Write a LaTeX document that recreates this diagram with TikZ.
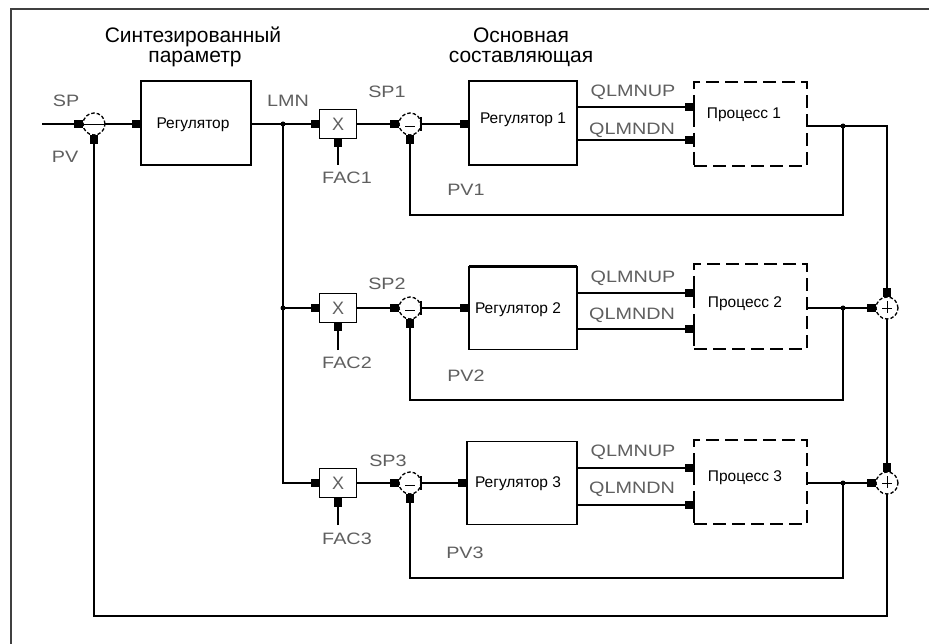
\documentclass[tikz,border=0pt]{standalone}
\usepackage{fontspec}
\usepackage{graphicx}
\setmainfont{Liberation Sans}
\usetikzlibrary{arrows.meta}
\definecolor{lblgray}{RGB}{95,95,95}
\definecolor{framegray}{RGB}{64,64,64}
\newcommand\stretchlbl[1]{\scalebox{1.2}[1]{#1}}
\begin{document}
\begin{tikzpicture}[x=1pt,y=-1pt,
 line width=1.5pt,
 every node/.style={inner sep=0pt,outer sep=0pt},
 blk/.style={draw,line width=1.6pt,rectangle},
 procbox/.style={draw,line width=1.6pt,dash pattern=on 13pt off 6pt,rectangle,minimum width=113pt},
 xbox/.style={draw,line width=1.6pt,rectangle,minimum width=37pt,minimum height=29pt,font=\fontsize{18}{18}\selectfont,text=lblgray},
 cmp/.style={circle,draw,line width=1.3pt,dash pattern=on 3.5pt off 2pt,minimum size=22pt},
 port/.style={-{Square[length=9pt,width=8pt]}},
 lbl/.style={text=lblgray,font=\fontsize{16.5}{16.5}\selectfont},
 btxt/.style={font=\fontsize{15.5}{15.5}\selectfont,anchor=base},
 hdr/.style={font=\fontsize{21}{21}\selectfont,anchor=base},
 jdot/.style={circle,fill,minimum size=5pt}
]
\useasboundingbox (0,0) rectangle (929,644);
\clip (0,0) rectangle (929,644);
\draw[framegray,line width=1.8pt] (11,9) rectangle (960,680);

% headers
\node[hdr] (h1a) at (193,43) {Синтезированный};
\node[hdr] (h1b) at (195,63) {параметр};
\node[hdr] (h2a) at (521,43) {Основная};
\node[hdr] (h2b) at (521,63) {составляющая};

% main controller
\node[cmp] (c0) at (94,124) {};
\node[blk,minimum width=110pt,minimum height=84pt] (reg0) at (196,123) {};
\node[btxt] (reg0t) at (193,129) {Регулятор};

% multipliers
\node[xbox] (x1) at (338,124) {X};
\node[xbox] (x2) at (338,308) {X};
\node[xbox] (x3) at (338,483) {X};

% comparators
\node[cmp] (c1) at (410,124) {};
\node[cmp] (c2) at (410,308) {};
\node[cmp] (c3) at (410,483) {};

% controllers
\node[blk,minimum width=108pt,minimum height=84pt] (reg1) at (523,123) {};
\node[blk,minimum width=108pt,minimum height=83pt] (reg2) at (523,308) {};
\node[blk,minimum width=110pt,minimum height=83pt] (reg3) at (522,483) {};
\node[btxt] (reg1t) at (523,124) {Регулятор 1};
\node[btxt] (reg2t) at (518,313) {Регулятор 2};
\node[btxt] (reg3t) at (518,487) {Регулятор 3};
\draw[line width=2.8pt] (reg2.north west) -- (reg2.north east);

% processes
\node[procbox,minimum height=84pt] (p1) at (750.5,124) {};
\node[procbox,minimum height=85pt] (p2) at (750.5,306.5) {};
\node[procbox,minimum height=84pt] (p3) at (750.5,482) {};
\node[btxt] (p1t) at (744,119) {Процесс 1};
\node[btxt] (p2t) at (745,308) {Процесс 2};
\node[btxt] (p3t) at (745,481) {Процесс 3};

% summing points
\node[cmp] (s2) at (887,308) {};
\node[cmp] (s3) at (887,483) {};

% coordinates
\coordinate (spin) at (42,124);
\coordinate (lmn) at (283,124);
\coordinate (b2) at (283,308);
\coordinate (f1) at (338,165);
\coordinate (f2) at (338,350);
\coordinate (f3) at (338,525);
\coordinate (p1u) at (694,107);
\coordinate (p1d) at (694,140);
\coordinate (p2u) at (694,293);
\coordinate (p2d) at (694,329);
\coordinate (p3u) at (694,468);
\coordinate (p3d) at (694,505);
\coordinate (j1) at (843,126);
\coordinate (j2) at (843,308);
\coordinate (j3) at (843,483);
\coordinate (fb1) at (843,215);
\coordinate (fb2) at (843,400);
\coordinate (fb3) at (843,578);
\coordinate (bot) at (887,616);

% main loop
\draw[port] (spin) -- (c0.west);
\draw[port] (c0.east) -- (c0.east -| reg0.west);
\draw (reg0.east |- lmn) -- (lmn);
\draw[port] (lmn) -- (x1.west);
\draw[port] (lmn) |- (x3.west);
\draw[port] (b2) -- (x2.west);
\node[jdot] (d0) at (lmn) {};
\node[jdot] (d1) at (b2) {};

% factor inputs
\draw[port] (f1) -- (x1.south);
\draw[port] (f2) -- (x2.south);
\draw[port] (f3) -- (x3.south);

% multiplier to comparator to controller
\draw[port] (x1.east) -- (c1.west);
\draw[port] (x2.east) -- (c2.west);
\draw[port] (x3.east) -- (c3.west);
\draw[port] (c1.east) -- (c1.east -| reg1.west);
\draw[port] (c2.east) -- (c2.east -| reg2.west);
\draw[port] (c3.east) -- (c3.east -| reg3.west);

% controller outputs
\draw[port] (reg1.east |- p1u) -- (p1u);
\draw[port,line width=2.6pt] (reg1.east |- p1d) -- (p1d);
\draw[port] (reg2.east |- p2u) -- (p2u);
\draw[port] (reg2.east |- p2d) -- (p2d);
\draw[port] (reg3.east |- p3u) -- (p3u);
\draw[port] (reg3.east |- p3d) -- (p3d);
\foreach \c in {p1u,p1d,p2u,p2d,p3u,p3d}
  \draw[line width=1.6pt] ([shift={(0,-7)}]\c) -- ([shift={(0,7)}]\c);

% process outputs and feedback
\draw (p1.east |- j1) -- (j1);
\draw[port] (j1) -| (s2.north);
\draw[port] (j1) -- (fb1) -| (c1.south);
\draw (p2.east |- j2) -- (j2);
\draw[port] (j2) -- (s2.west);
\draw[port] (j2) -- (fb2) -| (c2.south);
\draw (p3.east |- j3) -- (j3);
\draw[port] (j3) -- (s3.west);
\draw[port] (j3) -- (fb3) -| (c3.south);
\node[jdot] (d2) at (j1) {};
\node[jdot] (d3) at (j2) {};
\node[jdot] (d4) at (j3) {};
\draw[port] (s2.south) -- (s3.north);
\draw[port] (s3.south) -- (bot) -| (c0.south);

% circle symbols
\draw[line width=0.7pt] (c0.west) -- (c0.east);
\foreach \c in {c1,c2,c3}{
  \draw[line width=0.9pt] ([shift={(-5,2)}]\c.center) -- ([shift={(5,2)}]\c.center);
  \draw[line width=2.8pt] ([shift={(11,-7)}]\c.center) -- ([shift={(11,7)}]\c.center);
}
\foreach \c in {s2,s3}{
  \draw[line width=0.9pt] ([shift={(-5,0)}]\c.center) -- ([shift={(5,0)}]\c.center);
  \draw[line width=0.9pt] ([shift={(0,-7)}]\c.center) -- ([shift={(0,5)}]\c.center);
}

% labels
\node[lbl] (lsp) at (66,101) {\stretchlbl{SP}};
\node[lbl] (lpv) at (65,157) {\stretchlbl{PV}};
\node[lbl] (llmn) at (288,101) {\stretchlbl{LMN}};
\node[lbl] (lsp1) at (387,92) {\stretchlbl{SP1}};
\node[lbl] (lsp2) at (387,284) {\stretchlbl{SP2}};
\node[lbl] (lsp3) at (388,461) {\stretchlbl{SP3}};
\node[lbl] (lfac1) at (347,178) {\stretchlbl{FAC1}};
\node[lbl] (lfac2) at (347,363) {\stretchlbl{FAC2}};
\node[lbl] (lfac3) at (347,539) {\stretchlbl{FAC3}};
\node[lbl] (lpv1) at (466,190) {\stretchlbl{PV1}};
\node[lbl] (lpv2) at (466,376) {\stretchlbl{PV2}};
\node[lbl] (lpv3) at (465,553) {\stretchlbl{PV3}};
\node[lbl] (lu1) at (633,92) {\stretchlbl{QLMNUP}};
\node[lbl] (ld1) at (632,130) {\stretchlbl{QLMNDN}};
\node[lbl] (lu2) at (633,278) {\stretchlbl{QLMNUP}};
\node[lbl] (ld2) at (632,315) {\stretchlbl{QLMNDN}};
\node[lbl] (lu3) at (633,452) {\stretchlbl{QLMNUP}};
\node[lbl] (ld3) at (632,489) {\stretchlbl{QLMNDN}};
\end{tikzpicture}
\end{document}
